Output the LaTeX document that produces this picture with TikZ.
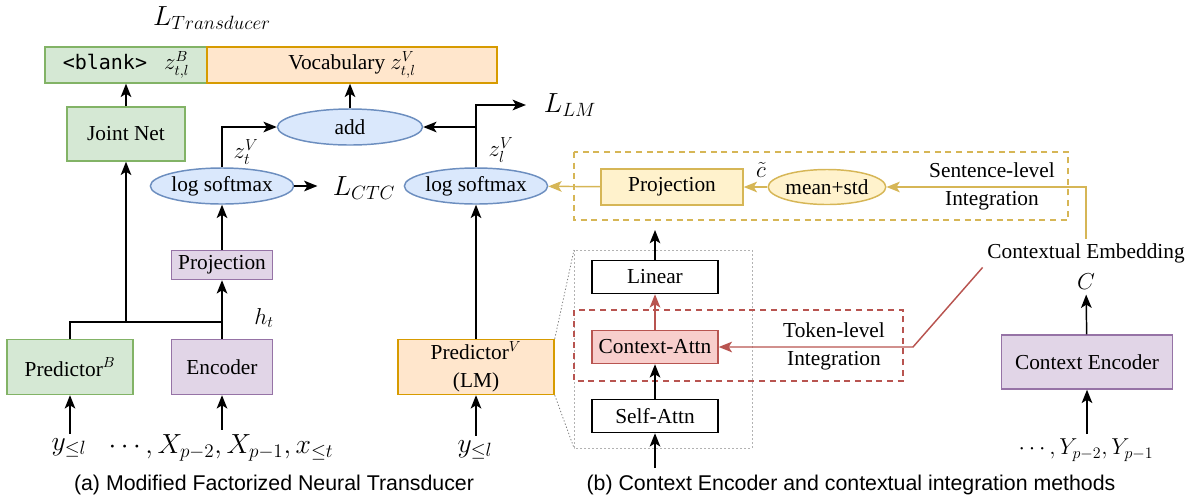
\documentclass[tikz,border=0pt]{standalone}
\usepackage{fontspec}
\setmainfont{Liberation Serif}
\setsansfont{Liberation Sans}
\setmonofont{DejaVu Sans Mono}
\usetikzlibrary{arrows.meta,shapes.geometric}
\definecolor{greenFill}{HTML}{D5E8D4}
\definecolor{greenLine}{HTML}{82B366}
\definecolor{orangeFill}{HTML}{FFE6CC}
\definecolor{orangeLine}{HTML}{D79B00}
\definecolor{purpleFill}{HTML}{E1D5E7}
\definecolor{purpleLine}{HTML}{9673A6}
\definecolor{blueFill}{HTML}{DAE8FC}
\definecolor{blueLine}{HTML}{6C8EBF}
\definecolor{yellowFill}{HTML}{FFF2CC}
\definecolor{yellowLine}{HTML}{D6B656}
\definecolor{redFill}{HTML}{F8CECC}
\definecolor{redLine}{HTML}{B85450}
\newcommand{\pxUnit}{0.75pt}
\newcommand{\boxFont}{\fontsize{16}{21}\selectfont}
\newcommand{\lossFont}{\fontsize{20.74}{22}\selectfont}
\newcommand{\labelFont}{\fontsize{17.28}{21}\selectfont}
\newcommand{\seqFont}{\fontsize{17.28}{19}\selectfont}
\newcommand{\captionFont}{\sffamily\fontsize{16}{18}\selectfont}

\begin{document}
\begin{tikzpicture}[x=\pxUnit, y=-\pxUnit,
    sized/.style 2 args={minimum width=#1*\pxUnit, minimum height=#2*\pxUnit},
    box/.style={draw, line width=1.1pt, inner sep=0pt, font=\boxFont},
    oval/.style={box, ellipse},
    greenNode/.style={fill=greenFill, draw=greenLine},
    orangeNode/.style={fill=orangeFill, draw=orangeLine},
    purpleNode/.style={fill=purpleFill, draw=purpleLine},
    blueNode/.style={fill=blueFill, draw=blueLine},
    yellowNode/.style={fill=yellowFill, draw=yellowLine},
    redNode/.style={fill=redFill, draw=redLine},
    plainNode/.style={fill=white, draw=black},
    wire/.style={line width=1.1pt},
    arr/.style={wire, -{Stealth[length=10pt, width=8pt, inset=2.5pt]}},
    yarr/.style={arr, color=yellowLine},
    rarr/.style={arr, color=redLine}]
  \useasboundingbox (0,0) rectangle (1193,501);

  % integration areas
  \draw[yellowLine, line width=1.1pt, dash pattern=on 4.5pt off 3.5pt] (574,152) rectangle (1068,220);
  \draw[gray!60, line width=0.6pt, dash pattern=on 1.5pt off 1.5pt] (574,250) rectangle (752,448);
  \draw[redLine, line width=1.1pt, dash pattern=on 4.5pt off 3.5pt] (574,310) rectangle (903,381);

  % (a) factorized transducer
  \node[box, greenNode, sized={162}{36}] (blank) at (126,65) {{\fontsize{15}{17}\ttfamily <blank>}\hspace{0.8em}$z^B_{t,l}$};
  \node[box, orangeNode, sized={290}{36}] (vocab) at (352,65) {Vocabulary $z^V_{t,l}$};
  \node[box, greenNode, sized={118}{54}] (joint) at (126,134) {Joint Net};
  \node[oval, blueNode, sized={145}{36}] (add) at (350,127) {add};
  \node[oval, blueNode, sized={141}{36}] (lsmA) at (222,186) {log softmax};
  \node[box, purpleNode, sized={101}{29}] (projA) at (222,265) {Projection};
  \node[box, purpleNode, sized={101}{55}] (enc) at (222,367) {Encoder};
  \node[box, greenNode, sized={126}{55}] (predB) at (70,367) {Predictor$^B$};
  \node[oval, blueNode, sized={141}{36}] (lsmB) at (476,186) {log softmax};
  \node[box, orangeNode, sized={156}{55}, align=center] (predV) at (476,367) {Predictor$^V$\\(LM)};

  \node[font=\lossFont] (ltrans) at (212,18) {$L_{Transducer}$};
  \node[font=\labelFont] (ztA) at (246,152) {$z^V_t$};
  \node[font=\lossFont] (lctc) at (364,188) {$L_{CTC}$};
  \node[font=\labelFont] (zlB) at (501,150) {$z^V_l$};
  \node[font=\lossFont] (llm) at (570,105) {$L_{LM}$};
  \node[font=\labelFont] (ht) at (264,318) {$h_t$};
  \node[font=\lossFont] (yA) at (69,448) {$y_{\le l}$};
  \node[font=\lossFont] (xseq) at (221,448) {$\cdots, X_{p-2}, X_{p-1}, x_{\le t}$};
  \node[font=\lossFont] (yB) at (475,450) {$y_{\le l}$};

  \coordinate (jn) at (126,322);
  \draw[arr] (joint) -- (blank);
  \draw[arr] (add.north) -- (add.north |- vocab.south);
  \draw[arr] (lsmA.north) |- (add.west);
  \draw[arr] (lsmA.east) -- ([xshift=-8pt]lsmA.east -| lctc.west);
  \draw[arr] (projA) -- (lsmA);
  \draw[arr] (enc) -- (projA);
  \draw[wire] (predB.north) |- (enc.north |- jn);
  \draw[arr] (jn) -- (joint);
  \draw[arr] (yA.north -| predB) -- (predB.south);
  \draw[arr] (xseq.north -| enc) -- (enc.south);
  \draw[arr] (lsmB.north) |- (add.east);
  \draw[arr] (lsmB.north |- add.east) |- ([xshift=-10pt]llm.west);
  \draw[arr] (predV) -- (lsmB);
  \draw[arr] (yB.north -| predV) -- (predV.south);

  % (b) context encoder and integration
  \node[box, plainNode, sized={126}{33}] (linear) at (655,277) {Linear};
  \node[box, redNode, sized={126}{33}] (cattn) at (655,347) {Context-Attn};
  \node[box, plainNode, sized={126}{33}] (sattn) at (655,416) {Self-Attn};
  \node[box, yellowNode, sized={142}{36}] (projB) at (672,187) {Projection};
  \node[oval, yellowNode, sized={110}{35}] (meanstd) at (827,187) {mean+std};
  \node[box, purpleNode, sized={171}{54}] (cenc) at (1087,362) {Context Encoder};

  \node[font=\labelFont] (ctil) at (761,170) {$\tilde{c}$};
  \node[font=\boxFont, align=center] (sent) at (992,186) {Sentence-level\\Integration};
  \node[font=\boxFont, align=center] (tok) at (834,346) {Token-level\\Integration};
  \node[font=\boxFont] (cemb) at (1086,253) {Contextual Embedding};
  \node[font=\labelFont] (cvec) at (1086,282) {$C$};
  \node[font=\seqFont] (yseq) at (1086,450) {$\cdots, Y_{p-2}, Y_{p-1}$};

  \coordinate (linTop) at (655,230);
  \coordinate (selfIn) at (655,468);
  \coordinate (tokBend) at (913,347);
  \draw[gray, line width=0.6pt, dash pattern=on 1pt off 1.5pt] (predV.north east) -- (574,250);
  \draw[gray, line width=0.6pt, dash pattern=on 1pt off 1.5pt] (predV.south east) -- (574,448);
  \draw[arr] (selfIn) -- (sattn);
  \draw[arr] (sattn) -- (cattn);
  \draw[rarr] (cattn) -- (linear);
  \draw[arr] (linear) -- (linTop);
  \draw[rarr] (cemb.south west) -- (tokBend) -- (cattn.east);
  \draw[yarr] (cemb.north) |- (meanstd.east);
  \draw[yarr] (meanstd) -- (projB);
  \draw[yarr] (projB) -- (lsmB);
  \draw[arr] (cenc) -- (cvec);
  \draw[arr] (yseq.north -| cenc) -- (cenc.south);

  \node[font=\captionFont] (capA) at (274,485) {(a) Modified Factorized Neural Transducer};
  \node[font=\captionFont] (capB) at (851,485) {(b) Context Encoder and contextual integration methods};
\end{tikzpicture}
\end{document}
